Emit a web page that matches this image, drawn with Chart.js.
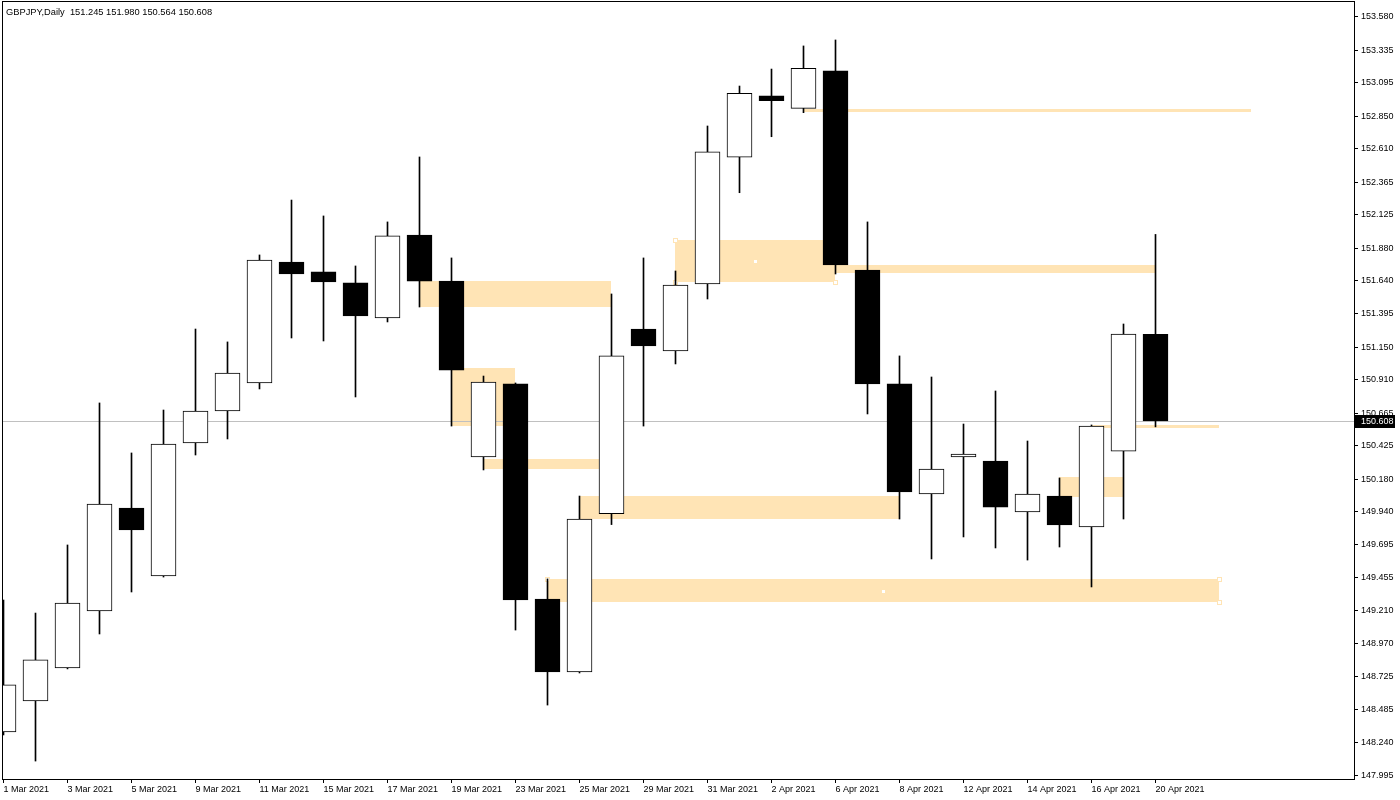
<!DOCTYPE html>
<html>
<head>
<meta charset="utf-8">
<script src="https://cdn.jsdelivr.net/npm/chart.js@4.4.1/dist/chart.umd.min.js"></script>
<style>
html, body { margin: 0; padding: 0; background: #fff; }
canvas { display: block; }
</style>
</head>
<body>
<canvas id="chart" width="1400" height="800"></canvas>
<script>
const symbol = 'GBPJPY,Daily';
const lastPrice = 150.608;

const dates = ['1 Mar 2021', '2 Mar 2021', '3 Mar 2021', '4 Mar 2021', '5 Mar 2021', '8 Mar 2021', '9 Mar 2021',
    '10 Mar 2021', '11 Mar 2021', '12 Mar 2021', '15 Mar 2021', '16 Mar 2021', '17 Mar 2021', '18 Mar 2021',
    '19 Mar 2021', '22 Mar 2021', '23 Mar 2021', '24 Mar 2021', '25 Mar 2021', '26 Mar 2021', '29 Mar 2021',
    '30 Mar 2021', '31 Mar 2021', '1 Apr 2021', '2 Apr 2021', '5 Apr 2021', '6 Apr 2021', '7 Apr 2021',
    '8 Apr 2021', '9 Apr 2021', '12 Apr 2021', '13 Apr 2021', '14 Apr 2021', '15 Apr 2021', '16 Apr 2021',
    '19 Apr 2021', '20 Apr 2021'];
const opens = [148.319, 148.547, 148.790, 149.209, 149.967, 149.467, 150.445, 150.681, 150.887, 151.777,
    151.704, 151.623, 151.365, 151.976, 151.637, 150.342, 150.880, 149.297, 148.760, 149.925,
    151.284, 151.122, 151.615, 152.548, 152.999, 152.908, 153.183, 151.718, 150.880, 150.070,
    150.342, 150.313, 149.938, 150.055, 149.827, 150.386, 151.245];
const highs = [149.290, 149.194, 149.695, 150.740, 150.372, 150.688, 151.284, 151.189, 151.829, 152.233,
    152.116, 151.748, 152.072, 152.550, 151.807, 150.938, 150.887, 149.445, 150.055, 151.542,
    151.807, 151.711, 152.778, 153.072, 153.197, 153.367, 153.411, 152.072, 151.086, 150.931,
    150.585, 150.828, 150.460, 150.188, 150.578, 151.321, 151.980];
const lows = [148.297, 148.105, 148.783, 149.040, 149.349, 149.459, 150.357, 150.475, 150.843, 151.218,
    151.196, 150.784, 151.336, 151.446, 150.570, 150.247, 149.069, 148.517, 148.753, 149.845,
    150.570, 151.027, 151.505, 152.287, 152.699, 152.876, 151.689, 150.659, 149.886, 149.592,
    149.754, 149.673, 149.584, 149.680, 149.386, 149.886, 150.564];
const closes = [148.665, 148.849, 149.268, 149.996, 149.805, 150.438, 150.681, 150.960, 151.792, 151.689,
    151.630, 151.380, 151.969, 151.637, 150.982, 150.894, 149.290, 148.760, 149.886, 151.086,
    151.159, 151.608, 152.587, 153.019, 152.964, 153.203, 151.755, 150.880, 150.085, 150.254,
    150.364, 149.974, 150.070, 149.842, 150.570, 151.247, 150.608];

const yTickLabels = ['153.580', '153.335', '153.095', '152.850', '152.610', '152.365', '152.125', '151.880',
    '151.640', '151.395', '151.150', '150.910', '150.665', '150.425', '150.180', '149.940', '149.695',
    '149.455', '149.210', '148.970', '148.725', '148.485', '148.240', '147.995'];

// rectangles: bar index where they start / end, price top / bottom
const zoneStart = [13, 14, 15, 21, 25, 26, 18, 17, 33, 34];
const zoneEnd = [19, 16, 19, 26, 39, 36, 28, 38, 35, 38];
const zoneTop = [151.637, 150.999, 150.328, 151.939, 152.903, 151.755, 150.055, 149.445, 150.195, 150.578];
const zoneBottom = [151.448, 150.573, 150.254, 151.632, 152.881, 151.698, 149.886, 149.275, 150.045, 150.558];
const selectedZones = [3, 7];

const FONT = "'Liberation Sans', Arial, sans-serif";
Chart.defaults.font.family = FONT;
Chart.defaults.font.size = 9;
Chart.defaults.color = '#000';

const overlay = {
    id: 'overlay',
    beforeDatasetsDraw(chart) {
        const { ctx, chartArea: a, scales: { x, y } } = chart;
        ctx.save();
        ctx.beginPath();
        ctx.rect(a.left, a.top, a.right - a.left, a.bottom - a.top);
        ctx.clip();
        ctx.fillStyle = '#FFE4B5';
        const boxes = zoneStart.map((s, k) => {
            const x0 = Math.floor(x.getPixelForValue(s));
            const x1 = Math.floor(x.getPixelForValue(zoneEnd[k]));
            const y0 = Math.round(y.getPixelForValue(zoneTop[k]));
            const y1 = Math.round(y.getPixelForValue(zoneBottom[k]));
            ctx.fillRect(x0, y0, x1 - x0, y1 - y0);
            return [x0, y0, x1, y1];
        });
        selectedZones.forEach(k => {
            const [x0, y0, x1, y1] = boxes[k];
            [[x0, y0], [x1, y0], [x0, y1], [x1, y1]].forEach(([cx, cy]) => {
                ctx.fillStyle = '#fff';
                ctx.fillRect(cx - 2, cy - 2, 4, 4);
                ctx.strokeStyle = '#FFE4B5';
                ctx.lineWidth = 1;
                ctx.strokeRect(cx - 1.5, cy - 1.5, 4, 4);
            });
            ctx.fillStyle = '#fff';
            ctx.fillRect(Math.round((x0 + x1) / 2) - 1, Math.round((y0 + y1) / 2) - 1, 3, 3);
        });
        const py = Math.round(y.getPixelForValue(lastPrice)) + 0.5;
        ctx.strokeStyle = '#C0C0C0';
        ctx.lineWidth = 1;
        ctx.beginPath();
        ctx.moveTo(a.left, py);
        ctx.lineTo(a.right, py);
        ctx.stroke();
        ctx.restore();
    },
    afterDraw(chart) {
        const { ctx, chartArea: a, scales: { y } } = chart;
        ctx.save();
        ctx.strokeStyle = '#000';
        ctx.lineWidth = 1;
        ctx.strokeRect(a.left + 0.5, a.top + 0.5, a.right - a.left, a.bottom - a.top);

        // current price box on the axis
        const py = Math.round(y.getPixelForValue(lastPrice));
        ctx.fillStyle = '#000';
        ctx.fillRect(a.right + 1, py - 6, 40, 13);
        ctx.fillStyle = '#fff';
        ctx.font = '9px ' + FONT;
        ctx.textBaseline = 'middle';
        ctx.fillText(lastPrice.toFixed(3), a.right + 7, py + 0.5);

        // header
        const last = opens.length - 1;
        ctx.fillStyle = '#000';
        ctx.font = '9.3px ' + FONT;
        ctx.textBaseline = 'alphabetic';
        ctx.fillText(symbol + '  ' + [opens[last], highs[last], lows[last], closes[last]].map(v => v.toFixed(3)).join(' '), 6, 15);
        ctx.restore();
    }
};

const ctx = document.getElementById('chart').getContext('2d');
new Chart(ctx, {
    type: 'bar',
    data: {
        datasets: [{
            label: 'body',
            data: dates.map((d, i) => ({ x: i, y: [opens[i], closes[i]] })),
            backgroundColor: c => closes[c.dataIndex] >= opens[c.dataIndex] ? '#fff' : '#000',
            borderColor: '#000',
            borderWidth: 1,
            borderSkipped: false,
            barThickness: 25,
            grouped: false,
            order: 0
        }, {
            label: 'wick',
            data: dates.map((d, i) => ({ x: i, y: [lows[i], highs[i]] })),
            backgroundColor: '#000',
            borderWidth: 0,
            barThickness: 1,
            grouped: false,
            order: 1
        }]
    },
    options: {
        responsive: false,
        animation: false,
        layout: { padding: { left: 2, top: 1, right: 0, bottom: 0 } },
        plugins: { legend: { display: false }, tooltip: { enabled: false } },
        scales: {
            x: {
                type: 'linear',
                min: -0.046875,
                max: 42.203125,
                offset: false,
                grid: { offset: false, drawOnChartArea: false, drawTicks: true, tickLength: 4, color: '#000' },
                border: { display: false },
                afterBuildTicks: s => { s.ticks = dates.map((d, i) => ({ value: i })).filter(t => t.value % 2 === 0); },
                afterFit: s => { s.height = 21; s.paddingLeft = 0; s.paddingRight = 0; },
                ticks: {
                    autoSkip: false,
                    maxRotation: 0,
                    align: 'start',
                    padding: 1,
                    callback: v => dates[v]
                }
            },
            y: {
                position: 'right',
                min: 147.9729,
                max: 153.6977,
                beginAtZero: false,
                grid: { drawOnChartArea: false, drawTicks: true, tickLength: 4, color: '#000' },
                border: { display: false },
                afterBuildTicks: s => { s.ticks = yTickLabels.map(l => ({ value: parseFloat(l) })); },
                afterFit: s => { s.width = 46; s.paddingTop = 0; s.paddingBottom = 0; },
                ticks: {
                    autoSkip: false,
                    padding: 3,
                    callback: (v, i) => yTickLabels[i]
                }
            }
        }
    },
    plugins: [overlay]
});
</script>
</body>
</html>
